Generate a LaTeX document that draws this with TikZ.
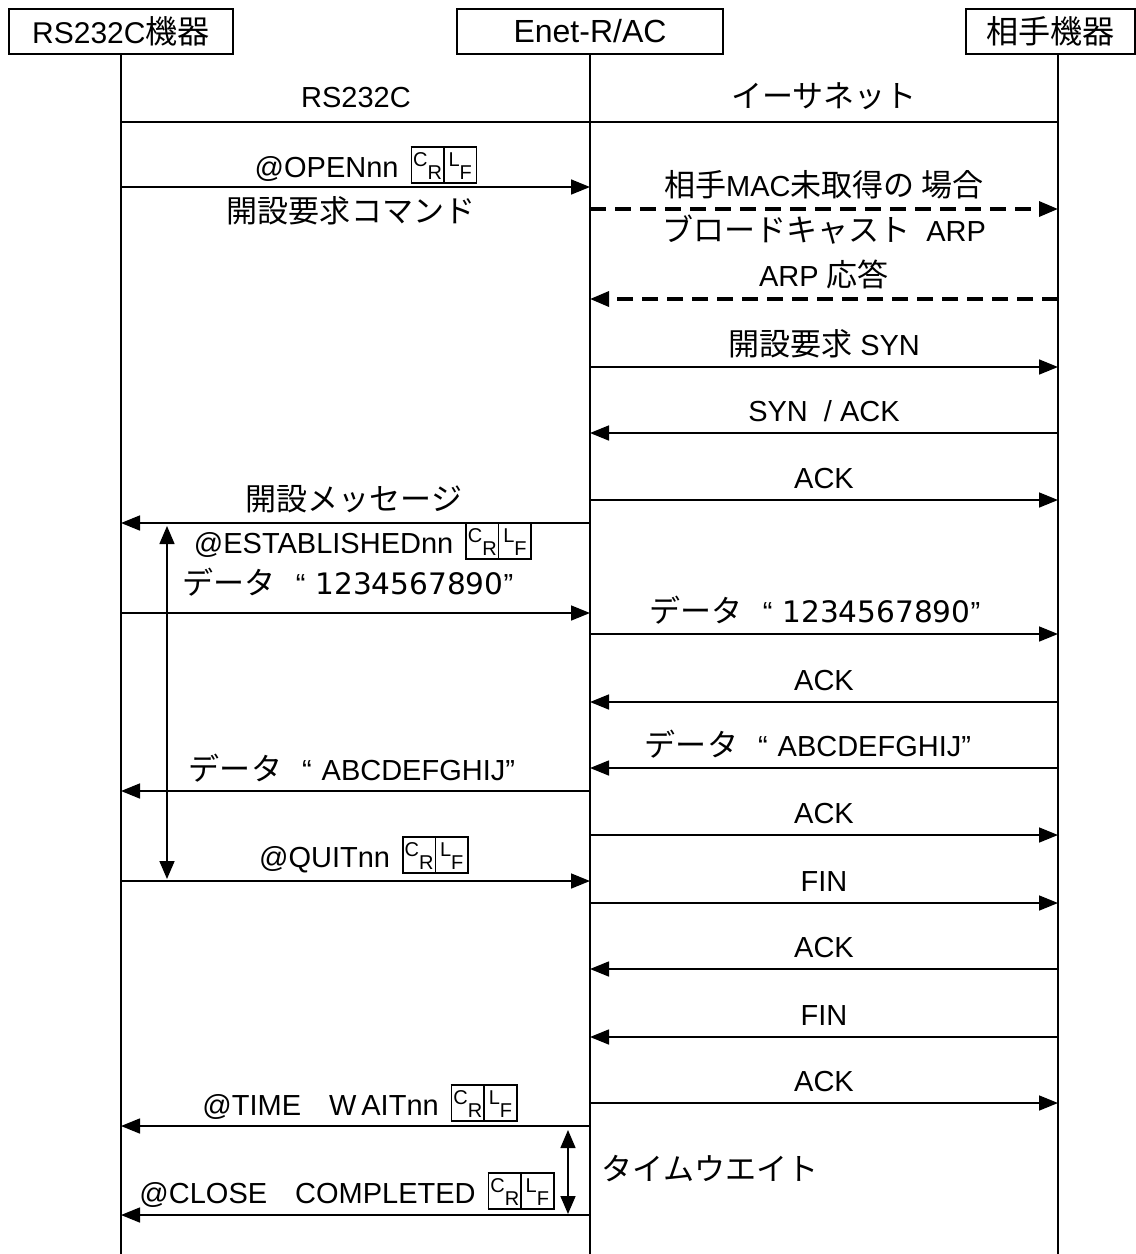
\documentclass[tikz,border=0pt]{standalone}
\usepackage{fontspec}
\setmainfont{Liberation Sans}
\newfontfamily\jp{Noto Sans CJK JP}[Scale=1.07]
\newfontfamily\dig{DejaVu Sans}[Scale=1.02]
\usetikzlibrary{arrows.meta}
\newcommand\crcell[2]{\fbox{\rule[-5pt]{0pt}{34pt}\makebox[31pt]{\fontsize{20}{20}\selectfont\raisebox{11pt}{#1}\raisebox{-2pt}{#2}}}}
\newcommand\crlf{\hspace{12pt}{\setlength\fboxsep{0pt}\setlength\fboxrule{1.6pt}\crcell{C}{R}\kern-1.6pt\crcell{L}{F}}}
\newcommand\dq[1]{{\jp データ}\hspace{20pt}“\hspace{10pt}#1”}
\begin{document}
\begin{tikzpicture}[x=1pt,y=-1pt, line width=1.6pt,
  every node/.style={font=\fontsize{29}{34}\selectfont, inner sep=0pt},
  hdr/.style={draw, minimum height=45pt, font=\fontsize{30}{36}\selectfont},
  lbl/.style={anchor=base},
  msg/.style={-{Triangle[length=19pt,width=15pt]}},
  dmsg/.style={msg, line width=3.3pt, dash pattern=on 16pt off 9pt},
  span/.style={{Triangle[length=18pt,width=15pt]}-{Triangle[length=18pt,width=15pt]}}]
\useasboundingbox (0,0) rectangle (1136,1254);
% headers
\node[hdr, minimum width=224pt] (b1) at (121,31.5) {RS232C{\jp 機器}};
\node[hdr, minimum width=266pt, font=\fontsize{32}{36}\selectfont] (b2) at (590,31.5) {Enet-R/AC};
\node[hdr, minimum width=169pt] (b3) at (1050.5,31.5) {{\jp 相手機器}};
% lifelines
\coordinate (l0) at (121,54); \coordinate (l9) at (121,1254);
\coordinate (m0) at (590,54); \coordinate (m9) at (590,1254);
\coordinate (r0) at (1058,54); \coordinate (r9) at (1058,1254);
\draw (l0) -- (l9);
\draw (m0) -- (m9);
\draw (r0) -- (r9);
\coordinate (h1) at (121,122); \coordinate (h2) at (1058,122);
\draw (h1) -- (h2);
\node[lbl] (t1) at (356,107) {RS232C};
\node[lbl] (t2) at (824,107) {\jp イーサネット};
% message coordinates
\foreach \n/\y in {1/187,2/209,3/299,4/367,5/433,6/500,7/523,8/613,9/634,10/702,11/768,12/791,13/835,14/881,15/903,16/969,17/1037,18/1103,19/1126,20/1215}{
  \coordinate (L\n) at (121,\y);
  \coordinate (M\n) at (590,\y);
  \coordinate (R\n) at (1058,\y);
}
\draw[msg] (L1) -- (M1);
\draw[dmsg] (M2) -- (R2);
\draw[dmsg] (R3) -- (M3);
\draw[msg] (M4) -- (R4);
\draw[msg] (R5) -- (M5);
\draw[msg] (M6) -- (R6);
\draw[msg] (M7) -- (L7);
\draw[msg] (L8) -- (M8);
\draw[msg] (M9) -- (R9);
\draw[msg] (R10) -- (M10);
\draw[msg] (R11) -- (M11);
\draw[msg] (M12) -- (L12);
\draw[msg] (M13) -- (R13);
\draw[msg] (L14) -- (M14);
\draw[msg] (M15) -- (R15);
\draw[msg] (R16) -- (M16);
\draw[msg] (R17) -- (M17);
\draw[msg] (M18) -- (R18);
\draw[msg] (M19) -- (L19);
\draw[msg] (M20) -- (L20);
% spans
\coordinate (s1) at (167,526); \coordinate (s2) at (167,879);
\coordinate (s3) at (568,1130); \coordinate (s4) at (568,1214);
\draw[span] (s1) -- (s2);
\draw[span] (s3) -- (s4);
% labels
\node[lbl] (n1) at (366,177) {@OPENnn\crlf};
\node[lbl] (n1b) at (351,222) {\jp 開設要求コマンド};
\node[lbl] (n2) at (824,196) {{\jp 相手}MAC{\jp 未取得の 場合}};
\node[lbl] (n2b) at (824,241) {{\jp ブロードキャスト}\ \ ARP};
\node[lbl] (n3) at (824,286) {ARP\ {\jp 応答}};
\node[lbl] (n4) at (824,355) {{\jp 開設要求}\ SYN};
\node[lbl] (n5) at (824,421) {SYN\ \ /\ ACK};
\node[lbl] (n6) at (824,488) {ACK};
\node[lbl] (n7) at (354,510) {\jp 開設メッセージ};
\node[lbl] (n7b) at (363,553) {@ESTABLISHEDnn\crlf};
\node[lbl] (n8) at (348,594) {\dq{{\dig 1234567890}}};
\node[lbl] (n9) at (815,622) {\dq{{\dig 1234567890}}};
\node[lbl] (n10) at (824,690) {ACK};
\node[lbl] (n11) at (808,756) {\dq{ABCDEFGHIJ}};
\node[lbl] (n12) at (352,780) {\dq{ABCDEFGHIJ}};
\node[lbl] (n13) at (824,823) {ACK};
\node[lbl] (n14) at (364,867) {@QUITnn\crlf};
\node[lbl] (n15) at (824,891) {FIN};
\node[lbl] (n16) at (824,957) {ACK};
\node[lbl] (n17) at (824,1025) {FIN};
\node[lbl] (n18) at (824,1091) {ACK};
\node[lbl] (n19) at (360,1115) {@TIME\hspace{28pt}W\,AITnn\crlf};
\node[lbl] (n20) at (347,1203) {@CLOSE\hspace{28pt}COMPLETED\crlf};
\node[lbl] (n21) at (710,1180) {\jp タイムウエイト};
\end{tikzpicture}
\end{document}
